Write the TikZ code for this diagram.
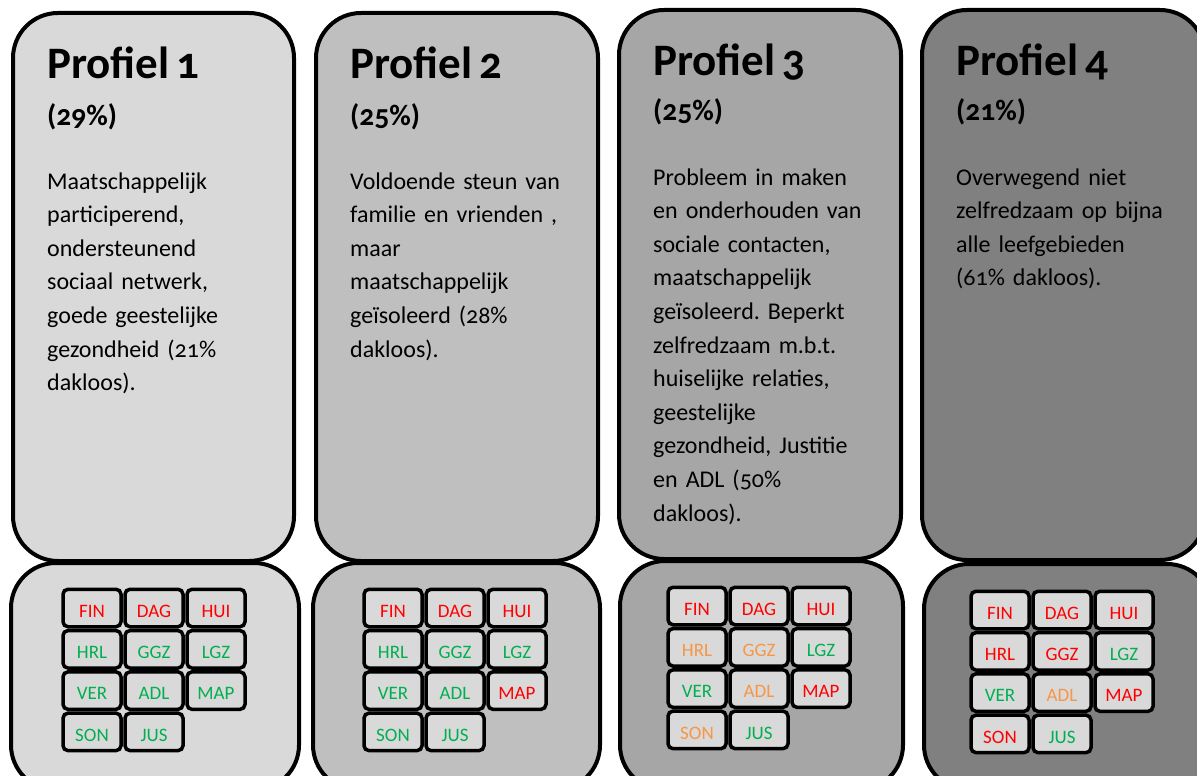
\documentclass[tikz,border=0pt]{standalone}
\usepackage{fontspec}
\setmainfont{Carlito}[Numbers=OldStyle, WordSpace=0.72]
\newfontfamily\cellfont{Carlito}
\definecolor{ga}{HTML}{D9D9D9}
\definecolor{gb}{HTML}{BFBFBF}
\definecolor{gc}{HTML}{A6A6A6}
\definecolor{gd}{HTML}{808080}
\definecolor{cr}{HTML}{FF0000}
\definecolor{cg}{HTML}{00B050}
\definecolor{co}{HTML}{F79646}
\frenchspacing
\tikzset{
  panel/.style={draw=black, line width=4pt, rounded corners=45pt},
  title/.style={anchor=base west, inner sep=0pt, font=\bfseries\fontsize{45}{52}\selectfont},
  pct/.style={anchor=base west, inner sep=0pt, font=\bfseries\fontsize{29.5}{35}\selectfont},
  body/.style={anchor=base west, inner sep=0pt, text width=255pt, align=left, font=\fontsize{24}{33.6}\selectfont},
  cell/.style={draw=black, line width=3.5pt, fill=ga, rounded corners=5pt, minimum width=58pt, minimum height=37.5pt, inner sep=0pt, text height=18.2pt, text depth=0pt, font=\cellfont\fontsize{19}{23}\selectfont}
}
\begin{document}
\begin{tikzpicture}[x=1pt,y=-1pt]
\useasboundingbox (0,0) rectangle (1197,776);
\clip (0,0) rectangle (1197,776);
% panels
\path[panel, fill=ga] (13,13) rectangle (294,561);
\path[panel, fill=ga] (11,563) rectangle (299,790);
\path[panel, fill=gb] (316,13) rectangle (598,561);
\path[panel, fill=gb] (313,563) rectangle (600,790);
\path[panel, fill=gc] (619,10) rectangle (901,559);
\path[panel, fill=gc] (620,561) rectangle (903,790);
\path[panel, fill=gd] (922,10) rectangle (1205,560);
\path[panel, fill=gd] (924,564) rectangle (1212,790);
% titles
\node[title] (t1) at (47,78) {Profiel 1};
\node[title] (t2) at (350,78) {Profiel 2};
\node[title] (t3) at (653,75) {Profiel 3};
\node[title] (t4) at (956,75) {Profiel 4};
\node[pct] (q1) at (47,125) {(29\%)};
\node[pct] (q2) at (350,125) {(25\%)};
\node[pct] (q3) at (653,120) {(25\%)};
\node[pct] (q4) at (956,120) {(21\%)};
\node[body] (b1) at (47,189) {Maatschappelijk\\participerend,\\ondersteunend\\sociaal netwerk,\\goede geestelijke\\gezondheid (21\%\\dakloos).};
\node[body] (b2) at (350,189) {Voldoende steun van\\familie en vrienden ,\\maar\\maatschappelijk\\geïsoleerd (28\%\\dakloos).};
\node[body] (b3) at (653,185) {Probleem in maken\\en onderhouden van\\sociale contacten,\\maatschappelijk\\geïsoleerd. Beperkt\\zelfredzaam m.b.t.\\huiselijke relaties,\\geestelijke\\gezondheid, Justitie\\en ADL (50\%\\dakloos).};
\node[body] (b4) at (956,185) {Overwegend niet\\zelfredzaam op bijna\\alle leefgebieden\\(61\% dakloos).};
% cells
\foreach \lab/\col/\c/\r [count=\i] in {FIN/cr/0/0,DAG/cr/1/0,HUI/cr/2/0,HRL/cg/0/1,GGZ/cg/1/1,LGZ/cg/2/1,VER/cg/0/2,ADL/cg/1/2,MAP/cg/2/2,SON/cg/0/3,JUS/cg/1/3}
  \node[cell, text=\col] (a\i) at ({92+62*\c},{608+41.3*\r}) {\lab};
\foreach \lab/\col/\c/\r [count=\i] in {FIN/cr/0/0,DAG/cr/1/0,HUI/cr/2/0,HRL/cg/0/1,GGZ/cg/1/1,LGZ/cg/2/1,VER/cg/0/2,ADL/cg/1/2,MAP/cr/2/2,SON/cg/0/3,JUS/cg/1/3}
  \node[cell, text=\col] (b\i) at ({393+62*\c},{608+41.3*\r}) {\lab};
\foreach \lab/\col/\c/\r [count=\i] in {FIN/cr/0/0,DAG/cr/1/0,HUI/cr/2/0,HRL/co/0/1,GGZ/co/1/1,LGZ/cg/2/1,VER/cg/0/2,ADL/co/1/2,MAP/cr/2/2,SON/co/0/3,JUS/cg/1/3}
  \node[cell, text=\col] (c\i) at ({697+62*\c},{606+41.3*\r}) {\lab};
\foreach \lab/\col/\c/\r [count=\i] in {FIN/cr/0/0,DAG/cr/1/0,HUI/cr/2/0,HRL/cr/0/1,GGZ/cr/1/1,LGZ/cg/2/1,VER/cg/0/2,ADL/co/1/2,MAP/cr/2/2,SON/cr/0/3,JUS/cg/1/3}
  \node[cell, text=\col] (d\i) at ({1000+62*\c},{610+41.3*\r}) {\lab};
\end{tikzpicture}
\end{document}
